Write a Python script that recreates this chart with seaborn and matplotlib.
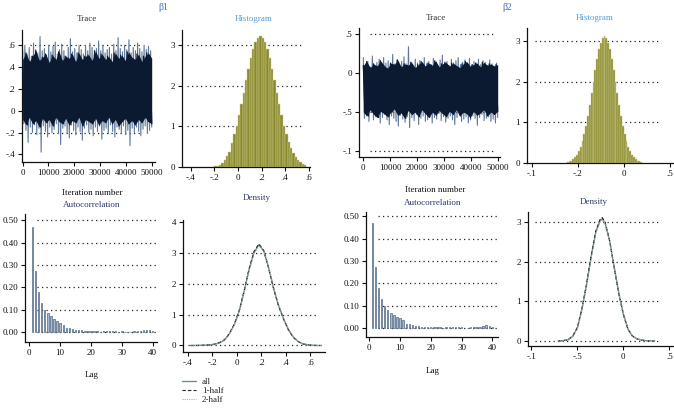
import numpy as np
import pandas as pd
import matplotlib
matplotlib.use('Agg')
import matplotlib.pyplot as plt
import seaborn as sns
from matplotlib.lines import Line2D

# ---------------- data ----------------
# Trace beta1: visible extremes of the chain (peaks / troughs) and dark core envelope
b1_trace_hi = [0.55,0.6,0.52,0.58,0.5,0.62,0.56,0.53,0.68,0.55,0.57,0.51,0.6,0.54,0.59,0.63,0.52,0.56,0.61,0.55,
               0.5,0.58,0.66,0.54,0.57,0.53,0.6,0.56,0.52,0.59,0.55,0.62,0.58,0.51,0.57,0.64,0.55,0.6,0.53,0.56,
               0.58,0.52,0.61,0.55,0.67,0.57,0.54,0.6,0.56,0.65,0.53,0.58,0.55,0.62,0.57,0.54,0.6,0.56,0.59,0.55]
b1_trace_lo = [-0.12,-0.18,-0.29,-0.15,-0.2,-0.13,-0.22,-0.16,-0.38,-0.14,-0.19,-0.24,-0.15,-0.2,-0.17,-0.12,-0.21,-0.31,-0.16,-0.14,
               -0.2,-0.25,-0.13,-0.18,-0.22,-0.15,-0.19,-0.27,-0.16,-0.13,-0.2,-0.17,-0.23,-0.15,-0.19,-0.14,-0.26,-0.18,-0.16,-0.21,
               -0.13,-0.19,-0.24,-0.15,-0.17,-0.2,-0.14,-0.22,-0.18,-0.32,-0.16,-0.2,-0.15,-0.19,-0.23,-0.17,-0.14,-0.21,-0.18,-0.15]
b1_core_hi = [0.47,0.53,0.45,0.5,0.55,0.46,0.49,0.52,0.44,0.51,0.47,0.54,0.46,0.5,0.48,0.52,0.45,0.53,0.47,0.5,
              0.51,0.46,0.55,0.48,0.52,0.47,0.5,0.45,0.53,0.48,0.51,0.46,0.54,0.49,0.47,0.52,0.45,0.5,0.53,0.48]
b1_core_lo = [-0.08,-0.13,-0.06,-0.12,-0.09,-0.15,-0.07,-0.11,-0.08,-0.14,-0.06,-0.1,-0.12,-0.07,-0.13,-0.09,-0.11,-0.06,-0.14,-0.08,
              -0.1,-0.12,-0.07,-0.13,-0.09,-0.11,-0.06,-0.12,-0.08,-0.14,-0.1,-0.07,-0.12,-0.09,-0.13,-0.08,-0.11,-0.06,-0.1,-0.12]

b2_trace_hi = [0.2,0.12,0.15,0.08,0.22,0.1,0.14,0.18,0.09,0.2,0.13,0.16,0.11,0.24,0.12,0.17,0.1,0.15,0.21,0.12,
               0.34,0.14,0.1,0.18,0.13,0.16,0.09,0.2,0.12,0.15,0.11,0.19,0.14,0.1,0.17,0.23,0.12,0.15,0.1,0.18,
               0.13,0.16,0.2,0.11,0.14,0.17,0.12,0.19,0.1,0.15,0.13,0.18,0.11,0.16,0.14,0.1,0.17,0.12,0.09,0.13]
b2_trace_lo = [-0.58,-0.55,-0.62,-0.5,-0.6,-0.56,-0.52,-0.64,-0.57,-0.53,-0.6,-0.66,-0.55,-0.58,-0.62,-0.68,-0.54,-0.59,-0.63,-0.56,
               -0.7,-0.57,-0.61,-0.53,-0.66,-0.58,-0.55,-0.62,-0.6,-0.54,-0.64,-0.57,-0.59,-0.52,-0.61,-0.56,-0.63,-0.58,-0.55,-0.6,
               -0.66,-0.57,-0.53,-0.62,-0.59,-0.56,-0.64,-0.6,-0.55,-0.58,-0.67,-0.57,-0.53,-0.61,-0.58,-0.56,-0.62,-0.59,-0.64,-0.57]
b2_core_hi = [0.1,0.15,0.07,0.12,0.09,0.16,0.1,0.06,0.13,0.11,0.17,0.08,0.12,0.1,0.14,0.07,0.11,0.15,0.09,0.13,
              0.1,0.16,0.08,0.12,0.14,0.09,0.13,0.1,0.07,0.12,0.15,0.09,0.11,0.13,0.08,0.14,0.1,0.12,0.09,0.11]
b2_core_lo = [-0.5,-0.55,-0.47,-0.53,-0.57,-0.49,-0.52,-0.56,-0.5,-0.46,-0.54,-0.51,-0.58,-0.48,-0.53,-0.5,-0.56,-0.47,-0.52,-0.57,
              -0.5,-0.54,-0.48,-0.52,-0.56,-0.49,-0.53,-0.47,-0.55,-0.5,-0.52,-0.57,-0.49,-0.54,-0.51,-0.47,-0.55,-0.5,-0.53,-0.49]

# Histograms (bin centres, densities)
b1_hist_x = [-0.19,-0.17,-0.15,-0.13,-0.11,-0.09,-0.07,-0.05,-0.03,-0.01,0.01,0.03,0.05,0.07,0.09,0.11,0.13,0.15,0.17,0.19,
             0.21,0.23,0.25,0.27,0.29,0.31,0.33,0.35,0.37,0.39,0.41,0.43,0.45,0.47,0.49,0.51,0.53,0.55,0.57]
b1_hist_y = [0.02,0.03,0.06,0.11,0.17,0.26,0.38,0.6,0.8,1.02,1.27,1.54,1.83,2.13,2.42,2.68,2.9,3.08,3.18,3.22,
             3.18,3.08,2.9,2.68,2.42,2.13,1.83,1.54,1.27,1.02,0.8,0.62,0.46,0.34,0.24,0.17,0.116,0.07,0.04]
b2_hist_x = [-0.61,-0.59,-0.57,-0.55,-0.53,-0.51,-0.49,-0.47,-0.45,-0.43,-0.41,-0.39,-0.37,-0.35,-0.33,-0.31,-0.29,-0.27,-0.25,-0.23,
             -0.21,-0.19,-0.17,-0.15,-0.13,-0.11,-0.09,-0.07,-0.05,-0.03,-0.01,0.01,0.03,0.05,0.07,0.09,0.11,0.13,0.15,0.17,0.19]
b2_hist_y = [0.024,0.038,0.06,0.092,0.137,0.2,0.29,0.4,0.54,0.71,0.92,1.16,1.43,1.72,2.01,2.3,2.57,2.8,2.97,3.08,
             3.14,3.08,2.97,2.8,2.57,2.3,2.01,1.72,1.43,1.16,0.92,0.71,0.54,0.4,0.29,0.2,0.137,0.092,0.06,0.038,0.024]

# Autocorrelation by lag
lags = list(range(1, 41))
b1_acf = [0.47,0.275,0.18,0.13,0.10,0.083,0.07,0.058,0.048,0.04,0.033,0.02,0.018,0.014,0.01,0.009,0.007,0.005,0.004,0.003,
          0.004,0.003,0.002,0.003,0.004,0.005,0.004,0.003,0.002,0.003,0.002,0.001,0.002,0.003,0.004,0.006,0.008,0.01,0.007,0.004]
b2_acf = [0.47,0.275,0.18,0.132,0.10,0.083,0.068,0.06,0.05,0.045,0.035,0.02,0.017,0.012,0.01,0.008,0.006,0.004,0.003,0.003,
          0.004,0.003,0.003,0.002,0.004,0.006,0.005,0.004,0.003,0.003,0.002,0.002,0.003,0.004,0.003,0.005,0.01,0.012,0.009,0.005]

# Kernel densities
b1_dens_x = [-0.38,-0.34,-0.30,-0.26,-0.22,-0.18,-0.14,-0.10,-0.06,-0.02,0.02,0.06,0.10,0.14,0.18,0.22,0.26,0.30,0.34,0.38,
             0.42,0.46,0.50,0.54,0.58,0.62,0.66,0.69]
b1_dens_all = [0.0,0.0,0.005,0.01,0.02,0.04,0.09,0.18,0.38,0.68,1.12,1.75,2.45,3.0,3.25,3.05,2.5,1.85,1.3,0.88,
               0.52,0.28,0.13,0.05,0.02,0.005,0.0,0.0]
b1_dens_h1 = [0.0,0.0,0.004,0.01,0.02,0.045,0.1,0.19,0.39,0.7,1.14,1.77,2.48,3.03,3.28,3.06,2.49,1.83,1.28,0.87,
              0.51,0.27,0.13,0.05,0.02,0.005,0.0,0.0]
b1_dens_h2 = [0.0,0.0,0.006,0.01,0.02,0.035,0.08,0.17,0.37,0.66,1.1,1.73,2.42,2.97,3.22,3.04,2.51,1.87,1.32,0.89,
              0.53,0.29,0.13,0.05,0.02,0.005,0.0,0.0]
b2_dens_x = [-0.71,-0.65,-0.60,-0.55,-0.50,-0.45,-0.40,-0.35,-0.30,-0.25,-0.23,-0.20,-0.15,-0.10,-0.05,0.00,0.05,0.10,0.15,0.20,
             0.25,0.30,0.34]
b2_dens_all = [0.0,0.01,0.03,0.12,0.33,0.8,1.42,2.12,2.74,3.05,3.08,2.98,2.53,1.87,1.21,0.68,0.3,0.12,0.05,0.02,0.008,0.003,0.0]
b2_dens_h1 = [0.0,0.01,0.03,0.13,0.34,0.82,1.44,2.15,2.77,3.08,3.11,3.0,2.54,1.86,1.2,0.67,0.3,0.12,0.05,0.02,0.008,0.003,0.0]
b2_dens_h2 = [0.0,0.01,0.03,0.11,0.32,0.78,1.4,2.09,2.71,3.02,3.05,2.96,2.52,1.88,1.22,0.69,0.31,0.12,0.05,0.02,0.008,0.003,0.0]

# Tick labels (as printed)
iter_ticks = [0, 10000, 20000, 30000, 40000, 50000]
iter_labels = ['0', '10000', '20000', '30000', '40000', '50000']
b1_val_ticks = [-0.4, -0.2, 0, 0.2, 0.4, 0.6]
b1_val_labels = ['-.4', '-.2', '0', '.2', '.4', '.6']
b2_val_ticks = [-1.0, -0.5, 0, 0.5]
b2_trace_labels = ['-.1', '-.5', '0', '.5']
b2_hist_labels = ['-.1', '-.2', '0', '.5']
b2_dens_labels = ['-.1', '-.5', '0', '.5']
acf_yticks = [0, 0.1, 0.2, 0.3, 0.4, 0.5]
acf_ylabels = ['0.00', '0.10', '0.20', '0.30', '0.40', '0.50']
lag_ticks = [0, 10, 20, 30, 40]
legend_labels = ['all', '1-half', '2-half']

# ---------------- style ----------------
sns.set_style('ticks')
plt.rcParams['font.family'] = ['Liberation Serif', 'DejaVu Serif']
plt.rcParams['font.size'] = 6.5

W, H = 674, 409
fig = plt.figure(figsize=(W / 100, H / 100), dpi=100)

NAVY = '#0b1a30'
SPIKE = '#5f7799'
OLIVE = '#8a892c'
OLIVE_EDGE = '#cfcf95'
ACF_FILL = '#a9b8cc'
ACF_EDGE = '#4f6784'
ALL_C = '#6b9478'
DOT = (0, (1, 2.6))
BINW = 0.02


def add_ax(x0, x1, y0, y1):
    return fig.add_axes([x0 / W, 1 - y1 / H, (x1 - x0) / W, (y1 - y0) / H])


def style(ax, xlim, ylim, xticks, xlabels, yticks, ylabels, grid, gx):
    ax.set_xlim(*xlim)
    ax.set_ylim(*ylim)
    ax.set_xticks(xticks)
    ax.set_xticklabels(xlabels)
    ax.set_yticks(yticks)
    ax.set_yticklabels(ylabels)
    for s in ['top', 'right']:
        ax.spines[s].set_visible(False)
    for s in ['left', 'bottom']:
        ax.spines[s].set_linewidth(0.9)
        ax.spines[s].set_color('#111111')
    ax.tick_params(length=3, width=0.8, pad=2, labelsize=6.5, colors='#111111')
    for g in grid:
        ax.axhline(g, xmin=gx[0], xmax=gx[1], color='#222222', lw=0.9, ls=DOT, zorder=0.5)
    ax.set_xlabel('')
    ax.set_ylabel('')
    ax.patch.set_alpha(0)


def label(x, y, s, color='#111111', size=6.5):
    fig.text(x / W, 1 - y / H, s, ha='center', va='center', color=color, fontsize=size)


def zig(hi, lo):
    return [v for pair in zip(hi, lo) for v in pair]


def trace(ax, hi, lo, chi, clo):
    vals = zig(hi, lo)
    it = np.linspace(0, 50000, len(vals))
    sns.lineplot(x=it, y=vals, ax=ax, color=SPIKE, lw=0.8, estimator=None, zorder=2)
    core = zig(chi, clo)
    ic = np.linspace(0, 50000, len(core))
    cx = np.linspace(0, 50000, len(chi))
    ax.fill_between(cx, clo, chi, color=NAVY, lw=0, zorder=3)
    sns.lineplot(x=ic, y=core, ax=ax, color=NAVY, lw=0.9, estimator=None, zorder=4)


def hist(ax, xs, ys):
    df = pd.DataFrame({'x': xs, 'w': ys})
    sns.histplot(data=df, x='x', weights='w', binwidth=BINW,
                 binrange=(min(xs) - BINW / 2, max(xs) + BINW / 2), stat='count', ax=ax,
                 color=OLIVE, edgecolor=OLIVE_EDGE, linewidth=0.35, alpha=1)


def acf(ax, vals):
    ax.bar(lags, vals, width=0.45, color=ACF_FILL, edgecolor=ACF_EDGE, linewidth=0.5, zorder=2)


def dens(ax, xs, a, h1, h2):
    sns.lineplot(x=xs, y=a, ax=ax, color=ALL_C, lw=1.0, estimator=None, zorder=2)
    sns.lineplot(x=xs, y=h1, ax=ax, color='#222222', lw=0.8, estimator=None, zorder=3,
                 linestyle=(0, (3, 2)))
    sns.lineplot(x=xs, y=h2, ax=ax, color='#aaaaaa', lw=0.8, estimator=None, zorder=4,
                 linestyle=(0, (1, 1)))


# ---------------- beta 1 ----------------
ax = add_ax(22, 155, 30, 162)
trace(ax, b1_trace_hi, b1_trace_lo, b1_core_hi, b1_core_lo)
style(ax, (-270, 51280), (-0.47, 0.74), iter_ticks, iter_labels, b1_val_ticks, b1_val_labels,
      [-0.2, 0, 0.2, 0.4, 0.6], (0.06, 0.9))

ax = add_ax(182, 310, 30, 167)
hist(ax, b1_hist_x, b1_hist_y)
style(ax, (-0.473, 0.61), (0, 3.37), b1_val_ticks, b1_val_labels, [0, 1, 2, 3], ['0', '1', '2', '3'],
      [1, 2, 3], (0.04, 0.93))

ax = add_ax(25, 157, 214, 342)
acf(ax, b1_acf)
style(ax, (-1.4, 41.4), (-0.045, 0.529), lag_ticks, [str(t) for t in lag_ticks], acf_yticks, acf_ylabels,
      acf_yticks, (0.09, 1.0))

ax = add_ax(183, 325, 220, 352)
dens(ax, b1_dens_x, b1_dens_all, b1_dens_h1, b1_dens_h2)
style(ax, (-0.44, 0.72), (-0.21, 4.05), b1_val_ticks, b1_val_labels, [0, 1, 2, 3, 4],
      ['0', '1', '2', '3', '4'], [0, 1, 2, 3], (0.035, 0.94))

# ---------------- beta 2 ----------------
ax = add_ax(359, 500, 28, 157)
trace(ax, b2_trace_hi, b2_trace_lo, b2_core_hi, b2_core_lo)
style(ax, (-1600, 50860), (-1.077, 0.58), iter_ticks, iter_labels, b2_val_ticks, b2_trace_labels,
      [-1.0, -0.5, 0, 0.5], (0.08, 0.95))

ax = add_ax(527, 673, 28, 163)
hist(ax, b2_hist_x, b2_hist_y)
style(ax, (-1.054, 0.537), (0, 3.33), b2_val_ticks, b2_hist_labels, [0, 1, 2, 3], ['0', '1', '2', '3'],
      [1, 2, 3], (0.055, 0.9))

ax = add_ax(366, 498, 212, 337)
acf(ax, b2_acf)
style(ax, (-1.07, 41.85), (-0.04, 0.52), lag_ticks, [str(t) for t in lag_ticks], acf_yticks, acf_ylabels,
      acf_yticks, (0.09, 1.0))

ax = add_ax(528, 673, 212, 346)
dens(ax, b2_dens_x, b2_dens_all, b2_dens_h1, b2_dens_h2)
style(ax, (-1.037, 0.54), (-0.127, 3.25), b2_val_ticks, b2_dens_labels, [0, 1, 2, 3],
      ['0', '1', '2', '3'], [0, 1, 2, 3], (0.05, 0.91))

# ---------------- titles / labels ----------------
TITLE_GRAY = '#333333'
HIST_BLUE = '#5b9bd5'
NAVY_T = '#2a3a6a'
BETA_BLUE = '#3f6fb5'

label(163, 7, 'β1', BETA_BLUE, 7)
label(507, 7, 'β2', BETA_BLUE, 7)
label(87, 19, 'Trace', TITLE_GRAY)
label(254, 19, 'Histogram', HIST_BLUE)
label(436, 18, 'Trace', TITLE_GRAY)
label(595, 18, 'Histogram', HIST_BLUE)
label(92, 193, 'Iteration number')
label(435, 190, 'Iteration number')
label(92, 205, 'Autocorrelation', NAVY_T)
label(433, 203, 'Autocorrelation', NAVY_T)
label(257, 198, 'Density', NAVY_T)
label(594, 202, 'Density', NAVY_T)
label(92, 375, 'Lag')
label(433, 371, 'Lag')

handles = [Line2D([], [], color=ALL_C, lw=1.0),
           Line2D([], [], color='#222222', lw=0.8, linestyle=(0, (3, 2))),
           Line2D([], [], color='#aaaaaa', lw=0.8, linestyle=(0, (1, 1)))]
fig.legend(handles, legend_labels, loc='upper left', bbox_to_anchor=(182 / W, 1 - 378 / H),
           frameon=False, fontsize=6.5, handlelength=1.6, handletextpad=0.6,
           labelspacing=0.05, borderpad=0, borderaxespad=0)

fig.savefig('out.png', dpi=100)
